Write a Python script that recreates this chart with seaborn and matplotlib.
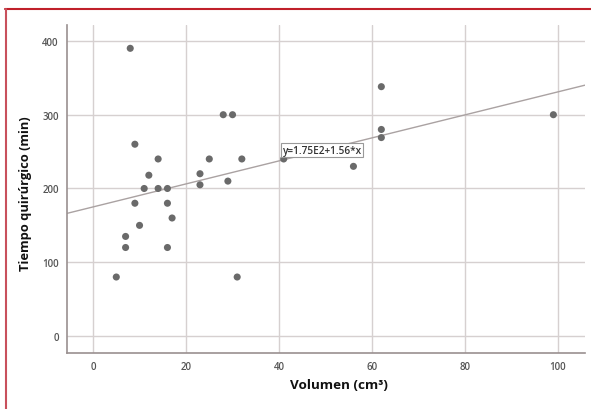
import pandas as pd
import matplotlib.pyplot as plt
import seaborn as sns
from matplotlib.lines import Line2D

# datos
volumen = [8, 9, 28, 30, 14, 25, 32, 41, 12, 23, 23, 29, 11, 14, 16, 9, 16,
           17, 10, 7, 7, 16, 5, 31, 62, 62, 62, 56, 99]
tiempo = [390, 260, 300, 300, 240, 240, 240, 240, 218, 220, 205, 210, 200, 200,
          200, 180, 180, 160, 150, 135, 120, 120, 80, 80, 338, 280, 269, 230, 300]
intercepto = 175
pendiente = 1.56
x_ticks = [0, 20, 40, 60, 80, 100]
y_ticks = [0, 100, 200, 300, 400]

df = pd.DataFrame({'Volumen': volumen, 'Tiempo': tiempo})

sns.set_style("white")
plt.rcParams['font.family'] = ['Open Sans', 'DejaVu Sans']

fig = plt.figure(figsize=(5.91, 4.10), dpi=100)
ax = fig.add_axes([67/591, 1 - 354/410, (585 - 67)/591, (354 - 26)/410])

ax.grid(True, color='#d6d0d0', linewidth=1)
ax.set_axisbelow(True)

ax.axline((0, intercepto), slope=pendiente, color='#aaa2a2', linewidth=1, zorder=2)
sns.scatterplot(data=df, x='Volumen', y='Tiempo', ax=ax, color='#6a6a6a',
                s=26, edgecolor='none', zorder=3)

ax.text(40.8, 252, 'y=1.75E2+1.56*x', fontsize=7.2, color='#333333', va='center',
        ha='left', fontweight='semibold', zorder=4,
        bbox=dict(boxstyle='square,pad=0.15', facecolor='white', edgecolor='#999999', linewidth=0.8))

ax.set_xlim(-5.6, 105.8)
ax.set_ylim(-23, 421.6)
ax.set_xticks(x_ticks)
ax.set_yticks(y_ticks)
ax.tick_params(length=0, labelsize=7, labelcolor='#555555', pad=6)
for lab in ax.get_xticklabels() + ax.get_yticklabels():
    lab.set_fontweight('semibold')

for s in ['top', 'right']:
    ax.spines[s].set_visible(False)
for s in ['left', 'bottom']:
    ax.spines[s].set_color('#9a9090')
    ax.spines[s].set_linewidth(1.2)

ax.set_xlabel('Volumen (cm³)', fontsize=9.7, fontweight='bold', color='#111111')
ax.set_ylabel('Tiempo quirúrgico (min)', fontsize=9.3, fontweight='bold', color='#111111')
ax.xaxis.set_label_coords(0.525, -0.075)
ax.yaxis.set_label_coords(-0.068, 0.49)

# marco rojo
fig.add_artist(Line2D([5/591, 1], [1 - 10/410, 1 - 10/410], color='#c0202a', linewidth=1.5))
fig.add_artist(Line2D([6/591, 6/591], [0, 1 - 10/410], color='#c8505c', linewidth=1.5))

fig.savefig('out.png', dpi=100)
